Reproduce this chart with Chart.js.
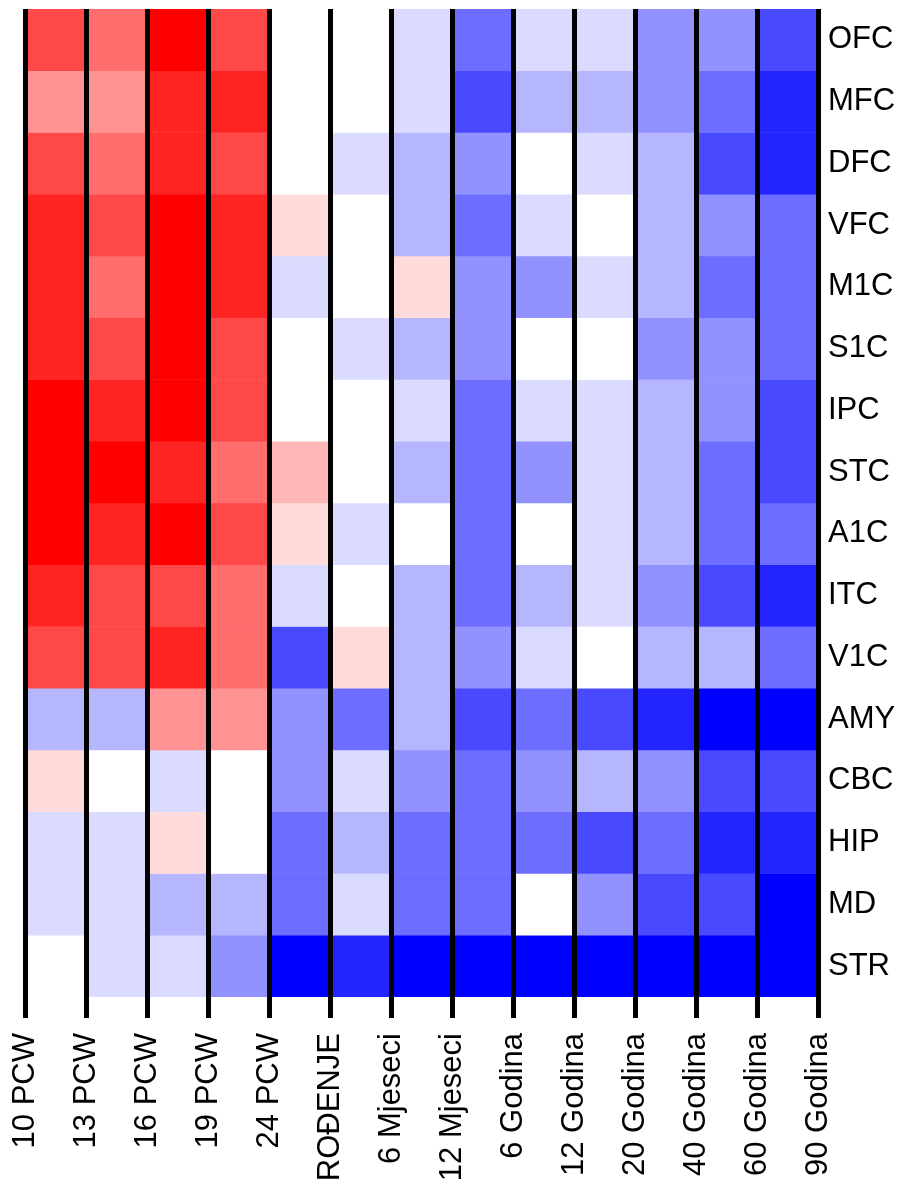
<!DOCTYPE html>
<html>
<head>
<meta charset="utf-8">
<script src="https://cdn.jsdelivr.net/npm/chart.js@4/dist/chart.umd.min.js"></script>
<style>
  html, body { margin: 0; padding: 0; background: #ffffff; }
  #wrap { width: 908px; height: 1187px; }
</style>
</head>
<body>
<div id="wrap"><canvas id="c" width="908" height="1187"></canvas></div>
<script>
// Regions (rows, top to bottom)
const regions = ['OFC','MFC','DFC','VFC','M1C','S1C','IPC','STC','A1C','ITC','V1C','AMY','CBC','HIP','MD','STR'];
// Time points (vertical lines / x tick labels)
const timeLabels = ['10 PCW','13 PCW','16 PCW','19 PCW','24 PCW','ROĐENJE','6 Mjeseci','12 Mjeseci','6 Godina','12 Godina','20 Godina','40 Godina','60 Godina','90 Godina'];

// Level values per interval (positive = red, negative = blue), 13 intervals per region
const OFC = [ 5, 4, 7, 5, 0, 0,-1,-4,-1,-1,-3,-3,-5];
const MFC = [ 3, 3, 6, 6, 0, 0,-1,-5,-2,-2,-3,-4,-6];
const DFC = [ 5, 4, 6, 5, 0,-1,-2,-3, 0,-1,-2,-5,-6];
const VFC = [ 6, 5, 7, 6, 1, 0,-2,-4,-1, 0,-2,-3,-4];
const M1C = [ 6, 4, 7, 6,-1, 0, 1,-3,-3,-1,-2,-4,-4];
const S1C = [ 6, 5, 7, 5, 0,-1,-2,-3, 0, 0,-3,-3,-4];
const IPC = [ 7, 6, 7, 5, 0, 0,-1,-4,-1,-1,-2,-3,-5];
const STC = [ 7, 7, 6, 4, 2, 0,-2,-4,-3,-1,-2,-4,-5];
const A1C = [ 7, 6, 7, 5, 1,-1, 0,-4, 0,-1,-2,-4,-4];
const ITC = [ 6, 5, 5, 4,-1, 0,-2,-4,-2,-1,-3,-5,-6];
const V1C = [ 5, 5, 6, 4,-5, 1,-2,-3,-1, 0,-2,-2,-4];
const AMY = [-2,-2, 3, 3,-3,-4,-2,-5,-4,-5,-6,-7,-7];
const CBC = [ 1, 0,-1, 0,-3,-1,-3,-4,-3,-2,-3,-5,-5];
const HIP = [-1,-1, 1, 0,-4,-2,-4,-4,-4,-5,-4,-6,-6];
const MD  = [-1,-1,-2,-2,-4,-1,-4,-4, 0,-3,-5,-5,-7];
const STR = [ 0,-1,-1,-3,-7,-6,-7,-7,-7,-7,-7,-7,-7];

const rowValues = [OFC, MFC, DFC, VFC, M1C, S1C, IPC, STC, A1C, ITC, V1C, AMY, CBC, HIP, MD, STR];
const maxLevel = 7;

function levelColor(v) {
  const g = Math.round(255 * (1 - Math.abs(v) / maxLevel));
  if (v > 0) return `rgb(255,${g},${g})`;
  if (v < 0) return `rgb(${g},${g},255)`;
  return 'rgb(255,255,255)';
}

const datasets = rowValues.map((vals, i) => ({
  label: regions[i],
  data: vals.map((v, j) => ({ x: j + 0.5, y: [i, i + 1] })),
  backgroundColor: vals.map(levelColor),
  borderWidth: 0,
  grouped: false,
  barPercentage: 1,
  categoryPercentage: 1
}));

Chart.defaults.font.family = "'Liberation Sans', Arial, sans-serif";
Chart.defaults.color = '#000';

new Chart(document.getElementById('c'), {
  type: 'bar',
  data: { datasets },
  options: {
    responsive: false,
    animation: false,
    devicePixelRatio: 1,
    layout: { padding: { top: 9, left: 25, right: 0, bottom: 0 } },
    plugins: { legend: { display: false }, tooltip: { enabled: false } },
    scales: {
      x: {
        type: 'linear',
        position: 'bottom',
        offset: false,
        min: 0,
        max: timeLabels.length - 1,
        afterBuildTicks: (s) => { s.ticks = timeLabels.map((_, i) => ({ value: i })); },
        afterFit: (s) => { s.height = 190; s.paddingLeft = 0; s.paddingRight = 0; },
        grid: { color: '#000', lineWidth: 5, tickLength: 21, drawTicks: true, offset: false, z: 1 },
        border: { display: false },
        ticks: {
          autoSkip: false,
          minRotation: 90,
          maxRotation: 90,
          padding: 15,
          color: '#000',
          font: { size: 31 },
          callback: (v, i) => timeLabels[i]
        }
      },
      y: {
        type: 'linear',
        position: 'right',
        reverse: true,
        offset: false,
        min: 0,
        max: regions.length,
        afterBuildTicks: (s) => { s.ticks = regions.map((_, i) => ({ value: i + 0.5 })); },
        afterFit: (s) => { s.width = 90; s.paddingTop = 0; s.paddingBottom = 0; },
        grid: { display: false, drawTicks: false },
        border: { display: false },
        ticks: {
          autoSkip: false,
          padding: 10,
          color: '#000',
          font: { size: 31 },
          callback: (v, i) => regions[i]
        }
      }
    }
  }
});
</script>
</body>
</html>
